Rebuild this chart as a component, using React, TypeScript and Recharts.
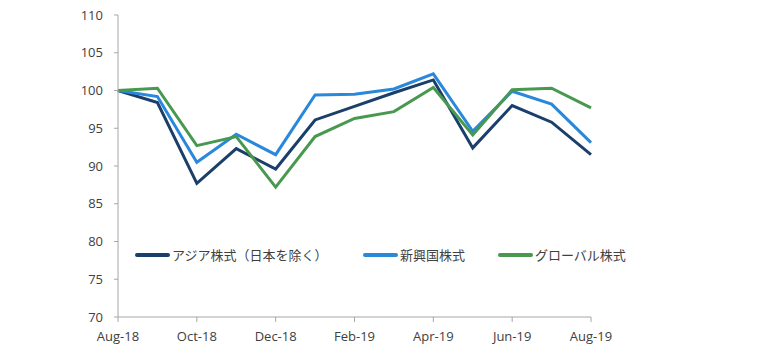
import { CartesianGrid, Legend, Line, LineChart, XAxis, YAxis } from "recharts";

const months = ["Aug-18", "Sep-18", "Oct-18", "Nov-18", "Dec-18", "Jan-19", "Feb-19", "Mar-19", "Apr-19", "May-19", "Jun-19", "Jul-19", "Aug-19"];
const asiaExJapan = [100, 98.4, 87.7, 92.3, 89.6, 96.1, 97.9, 99.7, 101.4, 92.4, 98.0, 95.8, 91.5];
const emerging = [100, 99.2, 90.5, 94.2, 91.5, 99.4, 99.5, 100.2, 102.2, 94.6, 99.9, 98.2, 93.1];
const globalEq = [100, 100.3, 92.7, 93.9, 87.2, 93.9, 96.3, 97.2, 100.4, 94.1, 100.1, 100.3, 97.7];
const yTicks = [70, 75, 80, 85, 90, 95, 100, 105, 110];
const xTicks = ["Aug-18", "Oct-18", "Dec-18", "Feb-19", "Apr-19", "Jun-19", "Aug-19"];

const seriesNames = ["アジア株式（日本を除く）", "新興国株式", "グローバル株式"];
const colors = ["#1b3f6b", "#2a88db", "#48994f"];
const itemWidths = [228, 135, 140];

const data = months.map((m, i) => ({
  month: m,
  asia: asiaExJapan[i],
  em: emerging[i],
  global: globalEq[i],
}));

const tickStyle = { fontFamily: "'Open Sans', 'Noto Sans CJK JP', sans-serif", fontSize: 13, fill: "#404040" };

const renderLegend = () => (
  <div style={{ display: "flex", fontFamily: "'Noto Sans CJK JP', sans-serif", fontSize: 13, color: "#404040" }}>
    {seriesNames.map((name, i) => (
      <div key={name} style={{ display: "flex", alignItems: "center", width: itemWidths[i] }}>
        <div style={{ width: 35, height: 4, borderRadius: 2, background: colors[i], marginRight: 2 }} />
        <span style={{ whiteSpace: "nowrap" }}>{name}</span>
      </div>
    ))}
  </div>
);

const App = () => {
  return (
    <div style={{ position: "absolute", left: 0, top: 0, background: "#fff" }}>
      <LineChart width={780} height={358} data={data} margin={{ top: 15, right: 189, bottom: 11, left: 0 }}>
        <CartesianGrid horizontal={false} vertical={false} />
        <XAxis
          dataKey="month"
          ticks={xTicks}
          interval={0}
          tick={tickStyle}
          tickSize={5}
          tickMargin={10}
          height={30}
          stroke="#a6a6a6"
        />
        <YAxis
          domain={[70, 110]}
          ticks={yTicks}
          interval={0}
          tick={tickStyle}
          tickSize={4}
          tickMargin={11}
          width={118}
          stroke="#a6a6a6"
        />
        <Legend
          layout="horizontal"
          verticalAlign="middle"
          content={renderLegend}
          wrapperStyle={{ left: 135, top: 245, width: "auto" }}
        />
        <Line type="linear" dataKey="asia" name={seriesNames[0]} stroke={colors[0]} strokeWidth={3} dot={false} isAnimationActive={false} />
        <Line type="linear" dataKey="em" name={seriesNames[1]} stroke={colors[1]} strokeWidth={3} dot={false} isAnimationActive={false} />
        <Line type="linear" dataKey="global" name={seriesNames[2]} stroke={colors[2]} strokeWidth={3} dot={false} isAnimationActive={false} />
      </LineChart>
    </div>
  );
};

export default App;
